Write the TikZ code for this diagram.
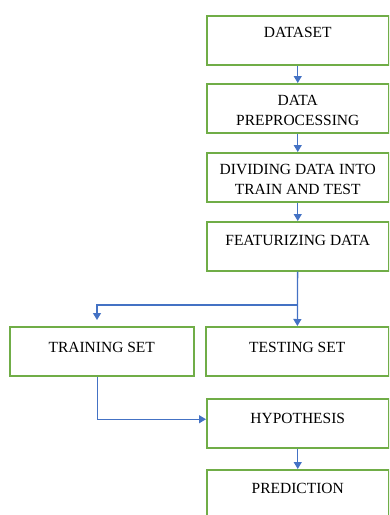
\documentclass[tikz,border=0pt]{standalone}
\usepackage{fontspec}
\setmainfont{Liberation Serif}
\usetikzlibrary{arrows.meta}
\definecolor{boxgreen}{RGB}{112,173,71}
\definecolor{arrowblue}{RGB}{68,114,196}

\begin{document}
\begin{tikzpicture}[x=1pt, y=-1pt,
  box/.style={draw=boxgreen, line width=1.5pt, rectangle, anchor=north west,
    minimum width=182pt, minimum height=49pt, inner sep=0pt},
  lbl/.style={anchor=north, align=center, inner sep=0pt,
    font=\fontsize{15.5}{20}\selectfont},
  arr/.style={draw=arrowblue, line width=1.3pt, -{Triangle[length=7pt,width=8pt]}}]
  \clip (0,0) rectangle (389,515);

  % main column
  \node[box] (dataset) at (206,15) {};
  \node[lbl] (datasettxt) at ([yshift=-12pt]dataset.north) {DATASET};

  \node[box] (preproc) at (206,83) {};
  \node[lbl] (preproctxt) at ([yshift=-12pt]preproc.north) {DATA\\PREPROCESSING};

  \node[box] (dividing) at (206,152) {};
  \node[lbl] (dividingtxt) at ([yshift=-12pt]dividing.north) {DIVIDING DATA INTO\\TRAIN AND TEST};

  \node[box] (feat) at (206,221) {};
  \node[lbl] (feattxt) at ([yshift=-14pt]feat.north) {FEATURIZING DATA};

  % split into training and testing
  \node[box, minimum width=184pt] (training) at (9,326) {};
  \node[lbl] (trainingtxt) at ([yshift=-16pt]training.north) {TRAINING SET};

  \node[box, minimum width=183pt] (testing) at (205,326) {};
  \node[lbl] (testingtxt) at ([yshift=-16pt]testing.north) {TESTING SET};

  % model
  \node[box] (hypo) at (206,398) {};
  \node[lbl] (hypotxt) at ([yshift=-15pt]hypo.north) {HYPOTHESIS};

  \node[box] (pred) at (206,469) {};
  \node[lbl] (predtxt) at ([yshift=-14pt]pred.north) {PREDICTION};

  % connectors
  \draw[arr] (dataset) -- (preproc);
  \draw[arr] (preproc) -- (dividing);
  \draw[arr] (dividing) -- (feat);
  \draw[arr] (feat) -- (testing);

  \coordinate (split) at (297,305);
  \coordinate (trainin) at (97,320);
  \draw[arr] (split) -| (trainin);

  \draw[arr] ([xshift=-4pt]training.south) |- ([yshift=4pt]hypo.west);
  \draw[arr] (hypo) -- (pred);

\end{tikzpicture}
\end{document}
